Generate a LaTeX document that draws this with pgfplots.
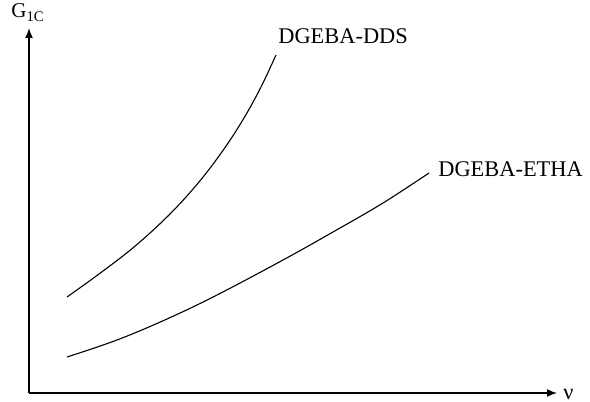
\documentclass[border=0pt]{standalone}
\usepackage{pgfplots}
\pgfplotsset{compat=1.18}
\usepackage{fontspec}
\setmainfont{Liberation Serif}
\usetikzlibrary{arrows.meta}
\begin{document}
\begin{tikzpicture}
\begin{axis}[
  x=0.5pt, y=0.5pt,
  xmin=0, xmax=528, ymin=0, ymax=365,
  axis lines=left,
  axis line style={line width=0.75pt, -{Latex[length=5pt,width=4pt]}},
  xtick=\empty, ytick=\empty,
  clip=false,
]
\addplot[black, line width=0.55pt, smooth, tension=0.6] coordinates {
 (38,96) (70,119) (105,146) (140,178) (170,211) (195,244) (215,275) (232,306) (247,338)
};
\addplot[black, line width=0.55pt, smooth, tension=0.6] coordinates {
 (38,36) (88,53) (138,74) (188,98) (254,133) (304,161) (354,190) (400,220)
};
\node[anchor=base west, inner sep=0pt, font=\fontsize{11.2}{13}\selectfont] at (axis cs:249,349) {DGEBA-DDS};
\node[anchor=base west, inner sep=0pt, font=\fontsize{11.2}{13}\selectfont] at (axis cs:409,216) {DGEBA-ETHA};
\node[anchor=base west, inner sep=0pt, font=\fontsize{11.2}{13}\selectfont] at (axis cs:534,-7) {ν};
\node[anchor=base west, inner sep=0pt, font=\fontsize{10.5}{12}\selectfont] at (axis cs:-18,375) {G\textsubscript{1C}};
\coordinate (bl) at (axis cs:-29,-9);
\coordinate (tr) at (axis cs:561,393);
\end{axis}
\pgfresetboundingbox
\path (bl) rectangle (tr);
\end{tikzpicture}
\end{document}
